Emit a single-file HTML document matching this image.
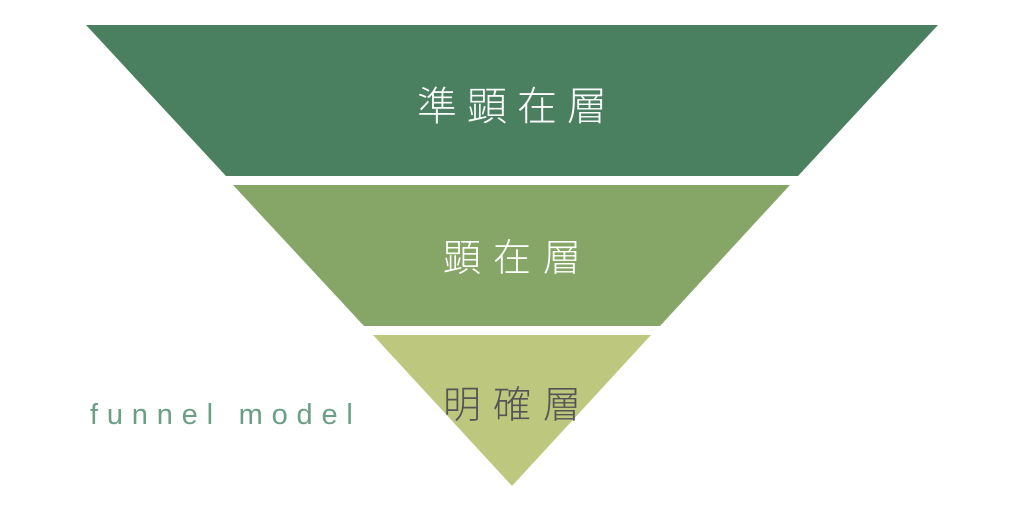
<!DOCTYPE html>
<html><head><meta charset="utf-8"><style>
html,body{margin:0;padding:0;background:#fff;width:1024px;height:512px;overflow:hidden}
text{font-family:"Liberation Sans","Noto Sans CJK JP",sans-serif}
</style></head><body>
<svg width="1024" height="512" viewBox="0 0 1024 512" xmlns="http://www.w3.org/2000/svg">
<polygon points="86,25 938,25 798,176 226,176" fill="#4a7f5f"/>
<polygon points="233,185 790,185 660,326 364,326" fill="#86a668"/>
<polygon points="373,335 651,335 512,486" fill="#bec77e"/>
<text x="517" y="120" font-size="40" fill="#fff" text-anchor="middle" font-weight="300" letter-spacing="10">準顕在層</text>
<text x="518" y="271" font-size="38" fill="#fff" text-anchor="middle" font-weight="300" letter-spacing="12">顕在層</text>
<text x="518" y="418" font-size="38" fill="#555" text-anchor="middle" font-weight="300" letter-spacing="12">明確層</text>
<text x="90" y="424" font-size="29" fill="#6a9f86" letter-spacing="8.8">funnel model</text>
</svg>
</body></html>
